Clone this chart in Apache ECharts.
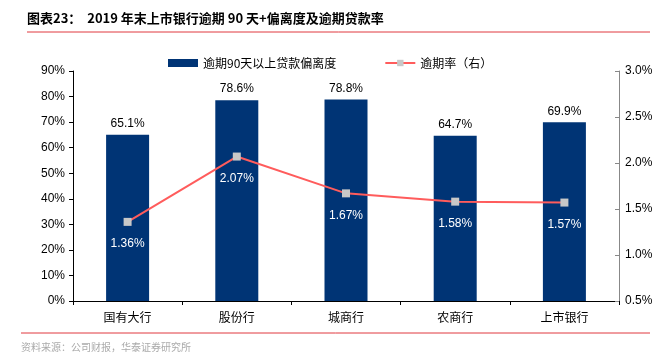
<!DOCTYPE html>
<html>
<head>
<meta charset="utf-8">
<script src="https://cdn.jsdelivr.net/npm/echarts@6/dist/echarts.min.js"></script>
<style>
html,body{margin:0;padding:0;background:#fff;}
#main{width:656px;height:364px;}
</style>
</head>
<body>
<div id="main"></div>
<script>
var categories = ['国有大行', '股份行', '城商行', '农商行', '上市银行'];
var deviation = [65.1, 78.6, 78.8, 64.7, 69.9];
var overdueRate = [1.36, 2.07, 1.67, 1.58, 1.57];

var cjk = '"Noto Sans CJK SC", sans-serif';
var latin = 'Arial, "Liberation Sans", sans-serif';

var myChart = echarts.init(document.getElementById('main'));
var option = {
  animation: false,
  backgroundColor: '#fff',
  textStyle: { fontFamily: latin },
  graphic: [
    { type: 'text', left: 27, top: 12,
      style: { text: '图表23：  2019 年末上市银行逾期 90 天+偏离度及逾期贷款率', fontSize: 13, fontWeight: 'bold', fill: '#000', fontFamily: cjk } },
    { type: 'line', shape: { x1: 27, y1: 32, x2: 650, y2: 32 }, style: { stroke: '#e0393e', lineWidth: 1 } },
    { type: 'line', shape: { x1: 21, y1: 333, x2: 650, y2: 333 }, style: { stroke: '#e0393e', lineWidth: 1 } },
    { type: 'text', left: 21, top: 342,
      style: { text: '资料来源：公司财报，华泰证券研究所', fontSize: 10, fill: '#aaa', fontFamily: cjk } }
  ],
  legend: {
    top: 52,
    left: 163,
    itemGap: 48,
    itemWidth: 30,
    itemHeight: 8,
    textStyle: { fontSize: 12, color: '#000', fontFamily: cjk },
    data: [
      { name: '逾期90天以上贷款偏离度', icon: 'rect' },
      { name: '逾期率（右）' }
    ]
  },
  grid: { left: 73, right: 37, top: 71, bottom: 63 },
  xAxis: {
    type: 'category',
    data: categories,
    axisLine: { lineStyle: { color: '#000' } },
    axisTick: { show: true, length: 4, lineStyle: { color: '#000' } },
    axisLabel: { fontSize: 12, color: '#000', margin: 10, fontFamily: cjk }
  },
  yAxis: [
    {
      type: 'value', min: 0, max: 90, interval: 10,
      splitLine: { show: false },
      axisLine: { show: true, lineStyle: { color: '#000' } },
      axisTick: { show: true, length: 4, lineStyle: { color: '#000' } },
      axisLabel: { formatter: '{value}%', fontSize: 12, color: '#000', margin: 8 }
    },
    {
      type: 'value', min: 0.5, max: 3.0, interval: 0.5,
      splitLine: { show: false },
      axisLine: { show: true, lineStyle: { color: '#888' } },
      axisTick: { show: true, inside: true, length: 4, lineStyle: { color: '#888' } },
      axisLabel: { formatter: function (v) { return v.toFixed(1) + '%'; }, fontSize: 12, color: '#000', margin: 6 }
    }
  ],
  series: [
    {
      name: '逾期90天以上贷款偏离度',
      type: 'bar',
      data: deviation,
      barWidth: 43,
      itemStyle: { color: '#003475' },
      label: { show: true, position: 'top', distance: 5, formatter: '{c}%', fontSize: 12, color: '#000' }
    },
    {
      name: '逾期率（右）',
      type: 'line',
      yAxisIndex: 1,
      data: overdueRate,
      symbol: 'rect',
      symbolSize: 8,
      lineStyle: { color: '#ff5c5c', width: 2 },
      itemStyle: { color: '#c8c8c8' },
      label: { show: true, position: 'bottom', distance: 12, formatter: '{c}%', fontSize: 12, color: '#fff' }
    }
  ]
};
myChart.setOption(option);
window.addEventListener('resize', function () { myChart.resize(); });
</script>
</body>
</html>
